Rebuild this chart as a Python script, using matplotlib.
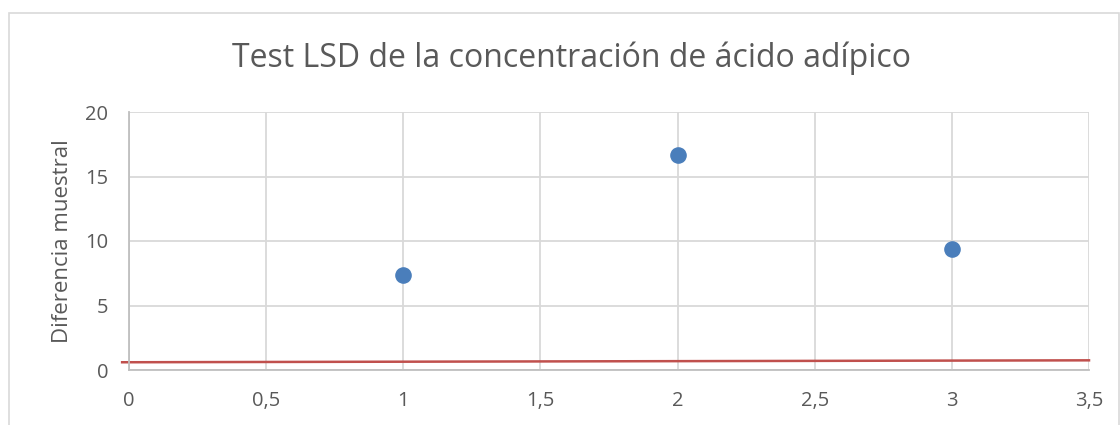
import matplotlib.pyplot as plt
from matplotlib.patches import Rectangle

plt.rcParams['font.family'] = ['Open Sans', 'DejaVu Sans']

# datos
grupos = [1, 2, 3]
diferencias = [7.35, 16.65, 9.35]
lsd_x = [-0.025, 3.5]
lsd_y = [0.6, 0.75]

gris = '#595959'

fig = plt.figure(figsize=(11.2, 4.25), dpi=100)
ax = fig.add_axes([129 / 1120, (425 - 370) / 425, (1089 - 129) / 1120, (370 - 112) / 425])

ax.scatter(grupos, diferencias, s=120, color='#4A7EBB', zorder=3, clip_on=False)
ax.plot(lsd_x, lsd_y, color='#C0504D', lw=1.8, zorder=2, clip_on=False)

ax.set_xlim(0, 3.5)
ax.set_ylim(0, 20)
ax.set_xticks([0, 0.5, 1, 1.5, 2, 2.5, 3, 3.5])
ax.set_xticklabels(['0', '0,5', '1', '1,5', '2', '2,5', '3', '3,5'])
ax.set_yticks([0, 5, 10, 15, 20])
ax.grid(True, color='#D9D9D9', lw=1.3)
ax.set_axisbelow(True)
for s in ['top', 'right']:
    ax.spines[s].set_visible(False)
for s in ['left', 'bottom']:
    ax.spines[s].set_color('#BFBFBF')
    ax.spines[s].set_linewidth(1.3)
ax.tick_params(length=0, labelsize=14.5, labelcolor=gris)
ax.tick_params(axis='y', pad=15)
ax.tick_params(axis='x', pad=15)
ax.set_ylabel('Diferencia muestral', fontsize=16, color=gris, labelpad=9)

fig.text(0.5 * (232 + 912) / 1120, 1 - 58 / 425, 'Test LSD de la concentración de ácido adípico',
         fontsize=23, color=gris, ha='center', va='center')

# borde del area del grafico
fig.patches.append(Rectangle((9 / 1120, -0.1), (1119 - 9) / 1120, 1.1 - 13 / 425,
                             transform=fig.transFigure, fill=False, ec='#D9D9D9', lw=1.2))

fig.savefig('out.png', dpi=100, facecolor='white')
